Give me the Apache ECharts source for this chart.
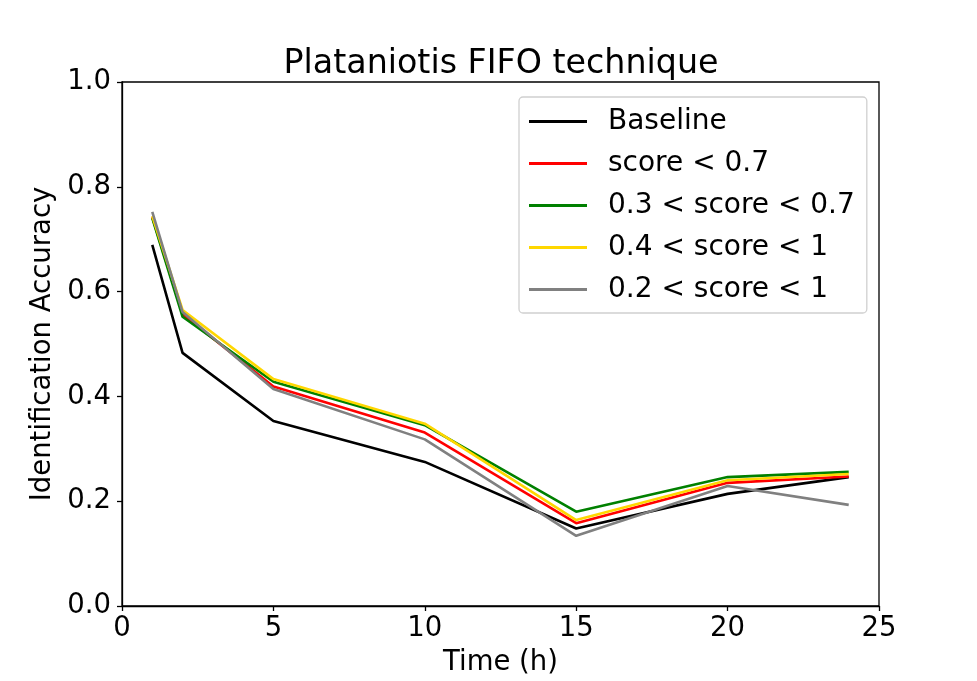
<!DOCTYPE html>
<html>
<head>
<meta charset="utf-8">
<script src="https://cdn.jsdelivr.net/npm/echarts@6/dist/echarts.min.js"></script>
<style>html,body{margin:0;padding:0;background:#fff}#c{width:977px;height:681px}</style>
</head>
<body>
<div id="c"></div>
<script>
const hours = [1, 2, 5, 10, 15, 20, 24];
const baseline = [0.689, 0.483, 0.353, 0.275, 0.148, 0.214, 0.246];
const scoreLt07 = [0.742, 0.557, 0.419, 0.331, 0.158, 0.235, 0.247];
const score03to07 = [0.740, 0.552, 0.428, 0.345, 0.180, 0.246, 0.256];
const score04to1 = [0.744, 0.565, 0.433, 0.348, 0.164, 0.240, 0.252];
const score02to1 = [0.752, 0.561, 0.414, 0.318, 0.134, 0.229, 0.193];
const seriesNames = ['Baseline', 'score < 0.7', '0.3 < score < 0.7', '0.4 < score < 1', '0.2 < score < 1'];
const seriesColors = ['#000000', '#ff0000', '#008000', '#ffd700', '#808080'];
const allValues = [baseline, scoreLt07, score03to07, score04to1, score02to1];

const font = 'DejaVu Sans';
const chart = echarts.init(document.getElementById('c'), null, {renderer: 'canvas'});
chart.setOption({
  animation: false,
  backgroundColor: '#fff',
  title: {
    text: 'Plataniotis FIFO technique',
    left: 496, textAlign: 'center', top: 43,
    textStyle: {fontFamily: font, fontSize: 33.3, fontWeight: 'normal', color: '#000'}
  },
  grid: {left: 122, right: 98, top: 82, bottom: 75, show: true, borderColor: '#000', borderWidth: 1.3,
         containLabel: false, outerBoundsMode: 'none'},
  legend: {
    left: 519, top: 97, orient: 'vertical',
    icon: 'rect', itemWidth: 58, itemHeight: 3, itemGap: 13,
    padding: [10, 12, 9, 10],
    borderColor: '#d0d0d0', borderWidth: 1.3, borderRadius: 4,
    backgroundColor: 'rgba(255,255,255,0.8)',
    textStyle: {fontFamily: font, fontSize: 28, lineHeight: 29, color: '#000', padding: [0, 0, 0, 16]},
    data: seriesNames
  },
  xAxis: {
    type: 'value', min: 0, max: 25, interval: 5,
    name: 'Time (h)', nameLocation: 'middle', nameGap: 43,
    nameTextStyle: {fontFamily: font, fontSize: 27.5, color: '#000'},
    axisLine: {lineStyle: {color: '#000', width: 1.3}},
    axisTick: {show: true, inside: false, length: 5, lineStyle: {color: '#000', width: 1.3}},
    axisLabel: {fontFamily: font, fontSize: 27.5, color: '#000', margin: 9},
    splitLine: {show: false}
  },
  yAxis: {
    type: 'value', min: 0, max: 1, interval: 0.2,
    name: 'Identification Accuracy', nameLocation: 'middle', nameGap: 56,
    nameTextStyle: {fontFamily: font, fontSize: 27.5, color: '#000'},
    axisLine: {show: true, lineStyle: {color: '#000', width: 1.3}},
    axisTick: {show: true, inside: false, length: 5, lineStyle: {color: '#000', width: 1.3}},
    axisLabel: {fontFamily: font, fontSize: 27.5, color: '#000', margin: 11, formatter: v => v.toFixed(1)},
    splitLine: {show: false}
  },
  series: seriesNames.map((n, i) => ({
    name: n, type: 'line', symbol: 'none',
    color: seriesColors[i],
    lineStyle: {color: seriesColors[i], width: 2.6},
    data: hours.map((h, k) => [h, allValues[i][k]]),
    z: 2 + i
  }))
});
</script>
</body>
</html>
